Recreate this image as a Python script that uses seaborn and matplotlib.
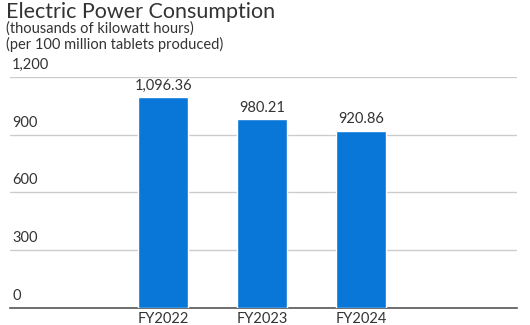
import matplotlib
matplotlib.use("Agg")
import matplotlib.pyplot as plt
import seaborn as sns
import pandas as pd

categories = ["FY2022", "FY2023", "FY2024"]
values = [1096.36, 980.21, 920.86]
value_labels = ["1,096.36", "980.21", "920.86"]
yticks = [0, 300, 600, 900, 1200]
ytick_labels = ["0", "300", "600", "900", "1,200"]

sns.set_theme(style="white")
plt.rcParams['font.family'] = ['Lato', 'DejaVu Sans']

df = pd.DataFrame({"cat": categories, "val": values})

fig = plt.figure(figsize=(5.3, 3.25), dpi=100)
ax = fig.add_axes([10/530, 1-307.5/325, 507/530, 230.5/325])
sns.barplot(data=df, x="cat", y="val", color="#0877d8", width=0.5, ax=ax,
            saturation=1, zorder=3)
ax.set_xlim(-1.55, 3.58)
ax.set_ylim(0, 1200)
ax.set_xlabel("")
ax.set_ylabel("")
ax.set_yticks(yticks)
ax.set_yticklabels([])
ax.tick_params(axis="y", length=0)
ax.tick_params(axis="x", length=0, pad=3, labelsize=10.5, labelcolor="#333333")
for sp in ["top", "right", "left"]:
    ax.spines[sp].set_visible(False)
ax.spines["bottom"].set_color("#555555")
ax.spines["bottom"].set_linewidth(1.2)
for y in yticks[1:]:
    ax.axhline(y, color="#cccccc", lw=1, zorder=1)
for y, lab in zip(yticks, ytick_labels):
    ax.text(0.004, y + 25, lab, transform=ax.get_yaxis_transform(),
            ha="left", va="bottom", fontsize=10.5, color="#333333")
for i, (v, lab) in enumerate(zip(values, value_labels)):
    ax.text(i, v + 22, lab, ha="center", va="bottom", fontsize=10.5, color="#333333")

fig.text(0.012, 0.994, "Electric Power Consumption", ha="left", va="top",
         fontsize=15.5, color="#333333")
fig.text(0.012, 0.935, "(thousands of kilowatt hours)", ha="left", va="top",
         fontsize=10.5, color="#333333")
fig.text(0.012, 0.885, "(per 100 million tablets produced)", ha="left", va="top",
         fontsize=10.5, color="#333333")

fig.savefig("out.png", dpi=100)
